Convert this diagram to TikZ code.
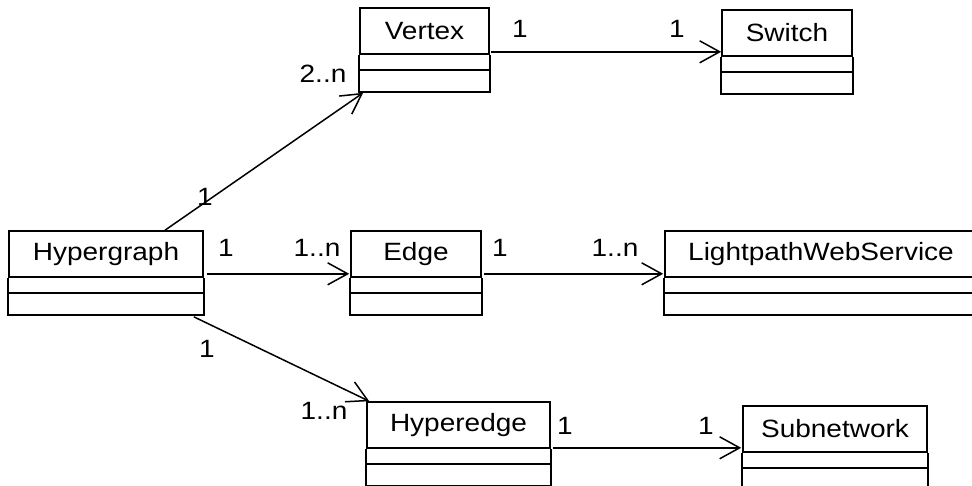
\documentclass[tikz,border=0pt]{standalone}
\usepackage{fontspec}
\setmainfont{Liberation Sans}[FakeStretch=1.12]
\usetikzlibrary{arrows.meta,calc}

% class box: the title part is the node, the two empty parts hang below it
\newcommand{\umlclass}[4]{%
  \node[cls,minimum width=#3pt] (#1) at (#2) {#4};
  \draw[box] (#1.south west) -- ++(0,37) -| (#1.south east);
  \draw[box] ($(#1.south west)+(0,15)$) -- ($(#1.south east)+(0,15)$);
}

\begin{document}
\begin{tikzpicture}[x=1pt,y=-1pt,
  every node/.style={font=\fontsize{25}{30}\selectfont},
  box/.style={line width=1.6pt},
  cls/.style={draw,box,rectangle,minimum height=46pt,inner sep=0pt},
  assoc/.style={line width=1.5pt,-{Straight Barb[length=20pt,width=22pt]}}]
\clip (0,0) rectangle (972,485);
\umlclass{vertex}{424.5,31}{129}{Vertex}
\umlclass{switch}{787,33}{130}{Switch}
\umlclass{hypergraph}{106,254}{194}{Hypergraph}
\umlclass{edge}{416,254}{130}{Edge}
\umlclass{lws}{821,254}{312}{LightpathWebService}
\umlclass{hyperedge}{458.5,425}{183}{Hyperedge}
\umlclass{subnetwork}{835,429}{184}{Subnetwork}
% associations
\draw[assoc] ($(hypergraph.north)+(59,0)$) -- ($(vertex.south west)+(4,38)$);
\draw[assoc] ($(vertex.south east)+(1,-3)$) -- ($(switch.south west)+(0,-5)$);
\draw[assoc] ($(hypergraph.south east)+(3,-4)$) -- ($(edge.south west)+(-1,-4)$);
\draw[assoc] ($(edge.south east)+(2,-4)$) -- ($(lws.south west)+(-1,-4)$);
\draw[assoc] ($(hypergraph.south east)+(-10,39)$) -- ($(hyperedge.north west)+(3,0)$);
\draw[assoc] ($(hyperedge.south east)+(2,-1)$) -- ($(subnetwork.south west)+(-1,-5)$);
% multiplicities
\node (m-hv-1) at (205,197) {1};
\node (m-hv-2) at (323,74) {2..n};
\node (m-vs-1) at (520,29) {1};
\node (m-vs-2) at (677,29) {1};
\node (m-he-1) at (226,248) {1};
\node (m-he-2) at (317,248) {1..n};
\node (m-el-1) at (500,248) {1};
\node (m-el-2) at (615,248) {1..n};
\node (m-hh-1) at (207,349) {1};
\node (m-hh-2) at (324,411) {1..n};
\node (m-hs-1) at (565,426) {1};
\node (m-hs-2) at (706,426) {1};
\end{tikzpicture}
\end{document}
